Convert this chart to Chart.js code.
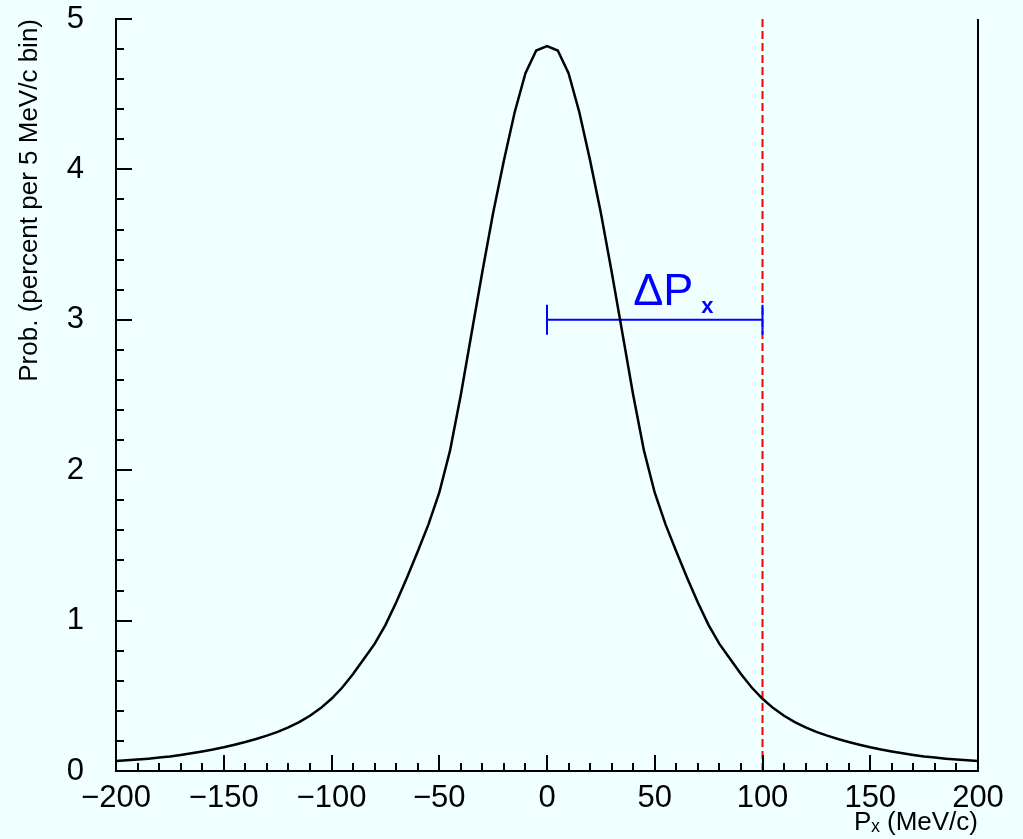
<!DOCTYPE html>
<html>
<head>
<meta charset="utf-8">
<title>Px distribution</title>
<script src="https://cdn.jsdelivr.net/npm/chart.js@4.4.1/dist/chart.umd.min.js"></script>
<style>
    html, body { margin: 0; padding: 0; background: #f0ffff; }
    #wrap { position: relative; width: 1023px; height: 839px; }
</style>
</head>
<body>
<div id="wrap"><canvas id="px"></canvas></div>
<script>
// ############################## DADOS ###########################################
// momento transverso (MeV/c), bins de 5 MeV/c
var pxBins = [
    -200, -195, -190, -185, -180, -175, -170, -165, -160, -155,
    -150, -145, -140, -135, -130, -125, -120, -115, -110, -105,
    -100, -95, -90, -85, -80, -75, -70, -65, -60, -55,
    -50, -45, -40, -35, -30, -25, -20, -15, -10, -5,
    0,
    5, 10, 15, 20, 25, 30, 35, 40, 45, 50,
    55, 60, 65, 70, 75, 80, 85, 90, 95, 100,
    105, 110, 115, 120, 125, 130, 135, 140, 145, 150,
    155, 160, 165, 170, 175, 180, 185, 190, 195, 200
];

// probabilidade (percentual por bin de 5 MeV/c)
var probValues = [
    0.066, 0.071, 0.076, 0.082, 0.089, 0.097, 0.107, 0.118, 0.130, 0.143,
    0.158, 0.175, 0.193, 0.213, 0.235, 0.260, 0.290, 0.325, 0.367, 0.418,
    0.480, 0.555, 0.645, 0.745, 0.845, 0.970, 1.120, 1.285, 1.460, 1.640,
    1.850, 2.130, 2.500, 2.910, 3.320, 3.710, 4.060, 4.380, 4.640, 4.790,
    4.820,
    4.790, 4.640, 4.380, 4.060, 3.710, 3.320, 2.910, 2.500, 2.130, 1.850,
    1.640, 1.460, 1.285, 1.120, 0.970, 0.845, 0.745, 0.645, 0.555, 0.480,
    0.418, 0.367, 0.325, 0.290, 0.260, 0.235, 0.213, 0.193, 0.175, 0.158,
    0.143, 0.130, 0.118, 0.107, 0.097, 0.089, 0.082, 0.076, 0.071, 0.066
];

// linha de corte (tracejada vermelha)
var cutX = [100, 100];
var cutY = [0, 5];

// barra de largura Delta Px
var widthX = [0, 100];
var widthY = [3, 3];

// eixos
var xTicks = [-200, -150, -100, -50, 0, 50, 100, 150, 200];
var yTicks = [0, 1, 2, 3, 4, 5];

var xTitle = 'P\u2093 (MeV/c)';
var yTitle = 'Prob. (percent per 5 MeV/c bin)';
var widthLabel = '\u0394P';
var widthSub = 'x';

var FONT = "'Liberation Sans', Arial, Helvetica, sans-serif";

function toPoints(xs, ys) {
    return xs.map(function (x, i) { return { x: x, y: ys[i] }; });
}

// ############################## PLUGINS ###########################################
// fundo azulado do canvas
var background = {
    id: 'background',
    beforeDraw: function (chart) {
        var ctx = chart.ctx;
        ctx.save();
        ctx.fillStyle = '#f0ffff';
        ctx.fillRect(0, 0, chart.width, chart.height);
        ctx.restore();
    }
};

// marcas internas (maiores e menores) e borda direita, estilo ROOT
var innerTicks = {
    id: 'innerTicks',
    afterDraw: function (chart) {
        var ctx = chart.ctx;
        var area = chart.chartArea;
        var xs = chart.scales.x;
        var ys = chart.scales.y;
        var v, p, len;

        ctx.save();
        ctx.strokeStyle = '#000';
        ctx.lineWidth = 2;
        ctx.beginPath();

        for (v = xs.min; v <= xs.max + 0.001; v += 10) {
            p = Math.round(xs.getPixelForValue(v));
            len = (Math.round(v) % 50 === 0) ? 16 : 8;
            ctx.moveTo(p, area.bottom);
            ctx.lineTo(p, area.bottom - len);
        }

        for (v = 0; v <= 25; v++) {
            p = Math.round(ys.getPixelForValue(v / 5));
            len = (v % 5 === 0) ? 16 : 8;
            ctx.moveTo(area.left, p);
            ctx.lineTo(area.left + len, p);
        }

        ctx.moveTo(area.right, area.top);
        ctx.lineTo(area.right, area.bottom);
        ctx.stroke();
        ctx.restore();
    }
};

// texto Delta Px acima da barra
var widthText = {
    id: 'widthText',
    afterDatasetsDraw: function (chart) {
        var ctx = chart.ctx;
        var xs = chart.scales.x;
        var ys = chart.scales.y;
        var x = xs.getPixelForValue(40);
        var y = ys.getPixelForValue(3.1);

        ctx.save();
        ctx.fillStyle = '#0000ff';
        ctx.textBaseline = 'alphabetic';
        ctx.textAlign = 'left';
        ctx.font = '45px ' + FONT;
        ctx.fillText(widthLabel, x, y);
        var w = ctx.measureText(widthLabel).width;
        ctx.font = 'bold 22px ' + FONT;
        ctx.fillText(widthSub, x + w + 8, y + 8);
        ctx.restore();
    }
};

// ############################## GRAFICO ###########################################
var pxCtx = document.getElementById('px');

var pxChart = new Chart(pxCtx, {
    type: 'line',
    data: {
        datasets: [{
            label: 'prob',
            data: toPoints(pxBins, probValues),
            borderColor: '#000',
            borderWidth: 2.5,
            pointRadius: 0,
            tension: 0,
            fill: false,
            order: 1
        }, {
            label: 'corte',
            data: toPoints(cutX, cutY),
            borderColor: '#ff0000',
            borderWidth: 2,
            borderDash: [8, 4],
            pointRadius: 0,
            fill: false,
            order: 3
        }, {
            label: 'largura',
            data: toPoints(widthX, widthY),
            borderColor: '#0000ff',
            borderWidth: 2,
            pointStyle: 'line',
            rotation: 90,
            pointRadius: 15,
            pointBorderColor: '#0000ff',
            pointBorderWidth: 2,
            fill: false,
            order: 2
        }]
    },
    options: {
        responsive: true,
        maintainAspectRatio: false,
        animation: false,
        events: [],
        layout: {
            padding: { top: 0, right: 0, left: 0, bottom: 0 }
        },
        plugins: {
            legend: { display: false },
            tooltip: { enabled: false }
        },
        scales: {
            x: {
                type: 'linear',
                min: -200,
                max: 200,
                afterFit: function (scale) {
                    scale.height = 68;
                    scale.paddingLeft = 0;
                    scale.paddingRight = 45;
                },
                afterBuildTicks: function (scale) {
                    scale.ticks = xTicks.map(function (v) { return { value: v }; });
                },
                grid: { display: false },
                border: { display: true, color: '#000', width: 2 },
                ticks: {
                    color: '#000',
                    padding: 1,
                    maxRotation: 0,
                    autoSkip: false,
                    font: { family: FONT, size: 31 },
                    callback: function (v) {
                        return v < 0 ? '\u2212' + Math.abs(v) : String(v);
                    }
                },
                title: {
                    display: true,
                    text: xTitle,
                    align: 'end',
                    color: '#000',
                    font: { family: FONT, size: 26 },
                    padding: { top: 0, bottom: 1 }
                }
            },
            y: {
                min: 0,
                max: 5,
                afterFit: function (scale) {
                    scale.width = 116;
                    scale.paddingTop = 19;
                    scale.paddingBottom = 0;
                },
                afterBuildTicks: function (scale) {
                    scale.ticks = yTicks.map(function (v) { return { value: v }; });
                },
                grid: { display: false },
                border: { display: true, color: '#000', width: 2 },
                ticks: {
                    color: '#000',
                    padding: 24,
                    font: { family: FONT, size: 31 }
                },
                title: {
                    display: true,
                    text: yTitle,
                    align: 'end',
                    color: '#000',
                    font: { family: FONT, size: 26 },
                    padding: { top: 14, bottom: 0 }
                }
            }
        }
    },
    plugins: [background, innerTicks, widthText]
});
</script>
</body>
</html>
